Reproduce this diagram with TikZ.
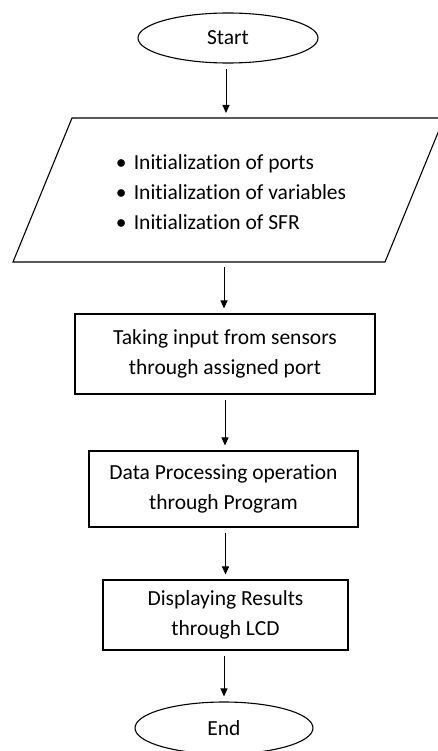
\documentclass[tikz,border=0pt]{standalone}
\usepackage{fontspec}
\setmainfont[Ligatures=NoCommon, RawFeature=-liga]{Carlito}
\usetikzlibrary{shapes.geometric,arrows.meta}

\tikzset{
  every node/.style={font=\fontsize{21.5}{30}\selectfont, inner sep=0pt},
  terminal/.style={draw, ellipse, line width=1.1pt, minimum width=180pt, minimum height=50pt},
  procbox/.style={draw, rectangle, line width=1.1pt, align=center},
  iobox/.style={draw, line width=1.1pt},
  flow/.style={line width=1pt, -{Triangle[width=7pt,length=8pt]}, shorten <=5pt, shorten >=5pt}
}

\begin{document}
\begin{tikzpicture}[x=1pt, y=-1pt]
  \useasboundingbox (0,0) rectangle (438,751);

  % start / end terminals
  \node[terminal] (start) at (228,38) {Start};
  \node[terminal, minimum width=178pt, minimum height=52pt] (stop) at (224,728) {End};

  % input/output parallelogram with the initialisation list
  \draw[iobox] (72,118) -- (444,118) -- (385,262) -- (13,262) -- cycle;
  \coordinate (intop) at (226,118);
  \coordinate (inbot) at (224,262);
  \node[align=left] (init) at (231,192)
    {\makebox[18pt][l]{•}Initialization of ports\\
     \makebox[18pt][l]{•}Initialization of variables\\
     \makebox[18pt][l]{•}Initialization of SFR};

  % process steps
  \node[procbox, minimum width=300pt, minimum height=80pt] (sense) at (225,354)
    {Taking input from sensors\\through assigned port};
  \node[procbox, minimum width=269pt, minimum height=76pt] (proc) at (223.5,489)
    {Data Processing operation\\through Program};
  \node[procbox, minimum width=245pt, minimum height=70pt] (show) at (225.5,615)
    {Displaying Results\\through LCD};

  % connectors
  \draw[flow] (intop |- start.south) -- (intop);
  \draw[flow] (inbot) -- (inbot |- sense.north);
  \draw[flow] (sense.south) -- (sense.south |- proc.north);
  \draw[flow] (show.north |- proc.south) -- (show.north);
  \draw[flow] (stop.north |- show.south) -- (stop.north);
\end{tikzpicture}
\end{document}
